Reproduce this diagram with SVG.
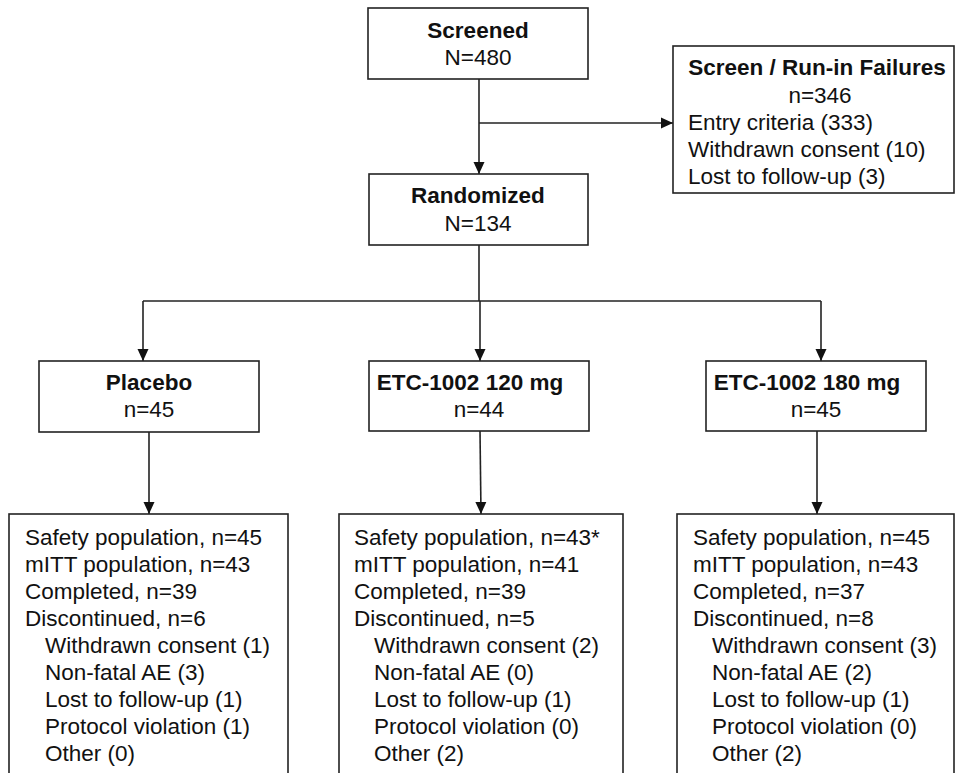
<svg xmlns="http://www.w3.org/2000/svg" width="955" height="773" viewBox="0 0 955 773">
<style>
  .box { fill: #ffffff; stroke: #222222; stroke-width: 1.6; }
  .t { font-family: "Liberation Sans", Arial, Helvetica, sans-serif; font-size: 22.5px; fill: #111111; }
  .b { font-weight: bold; }
  .c { text-anchor: middle; }
  .ln { fill: none; stroke: #222222; stroke-width: 1.6; }
</style>
<defs>
  <marker id="arr" markerUnits="userSpaceOnUse" markerWidth="12" markerHeight="12" viewBox="0 0 12 12" refX="12" refY="6" orient="auto">
    <path d="M0,0.5 L12,6 L0,11.5 z" fill="#111111"/>
  </marker>
</defs>
<rect width="955" height="773" fill="#ffffff"/>

<g id="connectors">
  <line class="ln" x1="479" y1="79" x2="479" y2="174" marker-end="url(#arr)"/>
  <line class="ln" x1="479" y1="123" x2="673" y2="123" marker-end="url(#arr)"/>
  <polyline class="ln" points="479,245 479,301"/>
  <polyline class="ln" points="143,301 821,301"/>
  <line class="ln" x1="143" y1="301" x2="143" y2="361" marker-end="url(#arr)"/>
  <line class="ln" x1="480" y1="301" x2="480" y2="361" marker-end="url(#arr)"/>
  <line class="ln" x1="821" y1="301" x2="821" y2="361" marker-end="url(#arr)"/>
  <line class="ln" x1="149" y1="432" x2="149" y2="514" marker-end="url(#arr)"/>
  <line class="ln" x1="480" y1="431" x2="481" y2="514" marker-end="url(#arr)"/>
  <line class="ln" x1="817" y1="431" x2="817" y2="514" marker-end="url(#arr)"/>
</g>

<g id="screened">
  <rect class="box" x="368" y="8" width="220" height="71"/>
  <text class="t b c" x="478" y="38">Screened</text>
  <text class="t c" x="478" y="65">N=480</text>
</g>

<g id="failures">
  <rect class="box" x="673" y="46" width="281" height="147"/>
  <text class="t b c" x="817" y="75">Screen / Run-in Failures</text>
  <text class="t c" x="820" y="103">n=346</text>
  <text class="t" x="688" y="130">Entry criteria (333)</text>
  <text class="t" x="688" y="157">Withdrawn consent (10)</text>
  <text class="t" x="688" y="184">Lost to follow-up (3)</text>
</g>

<g id="randomized">
  <rect class="box" x="369" y="174" width="219" height="71"/>
  <text class="t b c" x="478" y="203">Randomized</text>
  <text class="t c" x="478" y="231">N=134</text>
</g>

<g id="placebo">
  <rect class="box" x="39" y="361" width="220" height="71"/>
  <text class="t b c" x="149" y="390">Placebo</text>
  <text class="t c" x="149" y="417">n=45</text>
</g>

<g id="etc120">
  <rect class="box" x="369" y="361" width="220" height="70"/>
  <text class="t b c" x="470" y="390">ETC-1002 120 mg</text>
  <text class="t c" x="479" y="417">n=44</text>
</g>

<g id="etc180">
  <rect class="box" x="706" y="361" width="220" height="70"/>
  <text class="t b c" x="807" y="390">ETC-1002 180 mg</text>
  <text class="t c" x="816" y="417">n=45</text>
</g>

<g id="placebo-outcome">
  <rect class="box" x="9" y="514" width="279" height="270"/>
  <text class="t" x="25" y="545">Safety population, n=45</text>
  <text class="t" x="25" y="572">mITT population, n=43</text>
  <text class="t" x="25" y="599">Completed, n=39</text>
  <text class="t" x="25" y="626">Discontinued, n=6</text>
  <text class="t" x="45" y="653">Withdrawn consent (1)</text>
  <text class="t" x="45" y="680">Non-fatal AE (3)</text>
  <text class="t" x="45" y="707">Lost to follow-up (1)</text>
  <text class="t" x="45" y="734">Protocol violation (1)</text>
  <text class="t" x="45" y="761">Other (0)</text>
</g>

<g id="etc120-outcome">
  <rect class="box" x="339" y="514" width="284" height="270"/>
  <text class="t" x="354" y="545">Safety population, n=43*</text>
  <text class="t" x="354" y="572">mITT population, n=41</text>
  <text class="t" x="354" y="599">Completed, n=39</text>
  <text class="t" x="354" y="626">Discontinued, n=5</text>
  <text class="t" x="374" y="653">Withdrawn consent (2)</text>
  <text class="t" x="374" y="680">Non-fatal AE (0)</text>
  <text class="t" x="374" y="707">Lost to follow-up (1)</text>
  <text class="t" x="374" y="734">Protocol violation (0)</text>
  <text class="t" x="374" y="761">Other (2)</text>
</g>

<g id="etc180-outcome">
  <rect class="box" x="677" y="514" width="277" height="270"/>
  <text class="t" x="693" y="545">Safety population, n=45</text>
  <text class="t" x="693" y="572">mITT population, n=43</text>
  <text class="t" x="693" y="599">Completed, n=37</text>
  <text class="t" x="693" y="626">Discontinued, n=8</text>
  <text class="t" x="712" y="653">Withdrawn consent (3)</text>
  <text class="t" x="712" y="680">Non-fatal AE (2)</text>
  <text class="t" x="712" y="707">Lost to follow-up (1)</text>
  <text class="t" x="712" y="734">Protocol violation (0)</text>
  <text class="t" x="712" y="761">Other (2)</text>
</g>
</svg>
